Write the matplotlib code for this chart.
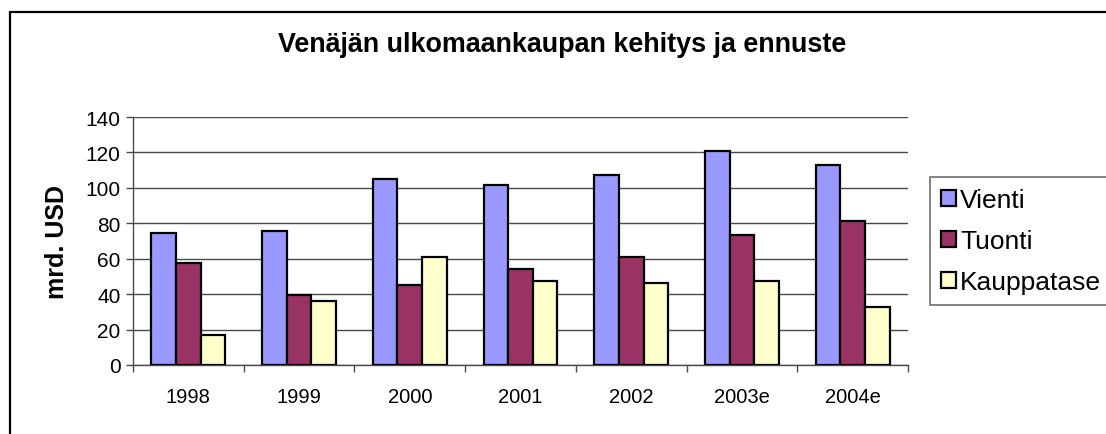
import matplotlib
matplotlib.use("Agg")
import matplotlib.pyplot as plt
from matplotlib.patches import Rectangle
import numpy as np

plt.rcParams['font.family'] = ['Liberation Sans', 'DejaVu Sans']

categories = ["1998", "1999", "2000", "2001", "2002", "2003e", "2004e"]
vienti = [74.5, 75.7, 105.0, 101.6, 107.3, 120.8, 112.9]
tuonti = [57.6, 39.7, 45.2, 54.2, 61.0, 73.4, 81.3]
kauppatase = [17.0, 36.1, 61.0, 47.4, 46.3, 47.4, 32.7]
series_names = ["Vienti", "Tuonti", "Kauppatase"]
series_colors = ["#9999FF", "#993366", "#FFFFCC"]
title = "Venäjän ulkomaankaupan kehitys ja ennuste"
ylabel = "mrd. USD"
yticks = [0, 20, 40, 60, 80, 100, 120, 140]

W, H = 1106, 435
fig = plt.figure(figsize=(W / 100, H / 100), dpi=100)
fig.patch.set_facecolor("white")

# outer chart frame (only top/left visible in the reference)
fig.add_artist(Rectangle((10 / W, -0.05), 1.2, 1 - 13 / H + 0.05,
                         transform=fig.transFigure, fill=False,
                         edgecolor="black", linewidth=1.6))

left, right, top, bottom = 133, 908, 118, 366
ax = fig.add_axes([left / W, 1 - bottom / H, (right - left) / W, (bottom - top) / H])

x = np.arange(len(categories))
w = 0.222
data = [vienti, tuonti, kauppatase]
handles = []
for i, (vals, name, col) in enumerate(zip(data, series_names, series_colors)):
    b = ax.bar(x + (i - 1) * w, vals, width=w, color=col, edgecolor="black",
               linewidth=1.6, label=name, zorder=3)
    handles.append(b)

ax.set_xlim(-0.5, len(categories) - 0.5)
ax.set_ylim(0, 140)
ax.set_yticks(yticks)
ax.set_yticklabels([str(t) for t in yticks], fontsize=15)
ax.yaxis.grid(True, color="#4a4a4a", linewidth=1.0, zorder=0)
ax.set_axisbelow(True)

ax.set_xticks(x)
ax.set_xticklabels(categories, fontsize=14.5)
ax.set_xticks(np.arange(-0.5, len(categories)), minor=True)
ax.tick_params(axis="x", which="major", length=0, pad=16)
ax.tick_params(axis="x", which="minor", length=5, color="#4a4a4a", width=1.0, direction="out")
ax.tick_params(axis="y", length=5, color="#4a4a4a", width=1.0, direction="out", pad=4)

for s in ["top", "right"]:
    ax.spines[s].set_visible(False)
for s in ["left", "bottom"]:
    ax.spines[s].set_color("#4a4a4a")
    ax.spines[s].set_linewidth(1.0)

ax.set_ylabel(ylabel, fontsize=18, fontweight="bold", labelpad=12)

fig.text(562 / W, 1 - 45 / H, title, fontsize=19.4, fontweight="bold",
         ha="center", va="center")

leg = fig.legend(handles=handles, labels=series_names, loc="upper left",
                 bbox_to_anchor=(930 / W, 1 - 178 / H), fontsize=19,
                 frameon=True, fancybox=False, shadow=False,
                 handlelength=0.57, handleheight=0.57, handletextpad=0.15,
                 labelspacing=0.65, borderpad=0.42, borderaxespad=0)
leg.get_frame().set_edgecolor("#4a4a4a")
leg.get_frame().set_linewidth(1.2)

fig.savefig("out.png", dpi=100, facecolor="white")
